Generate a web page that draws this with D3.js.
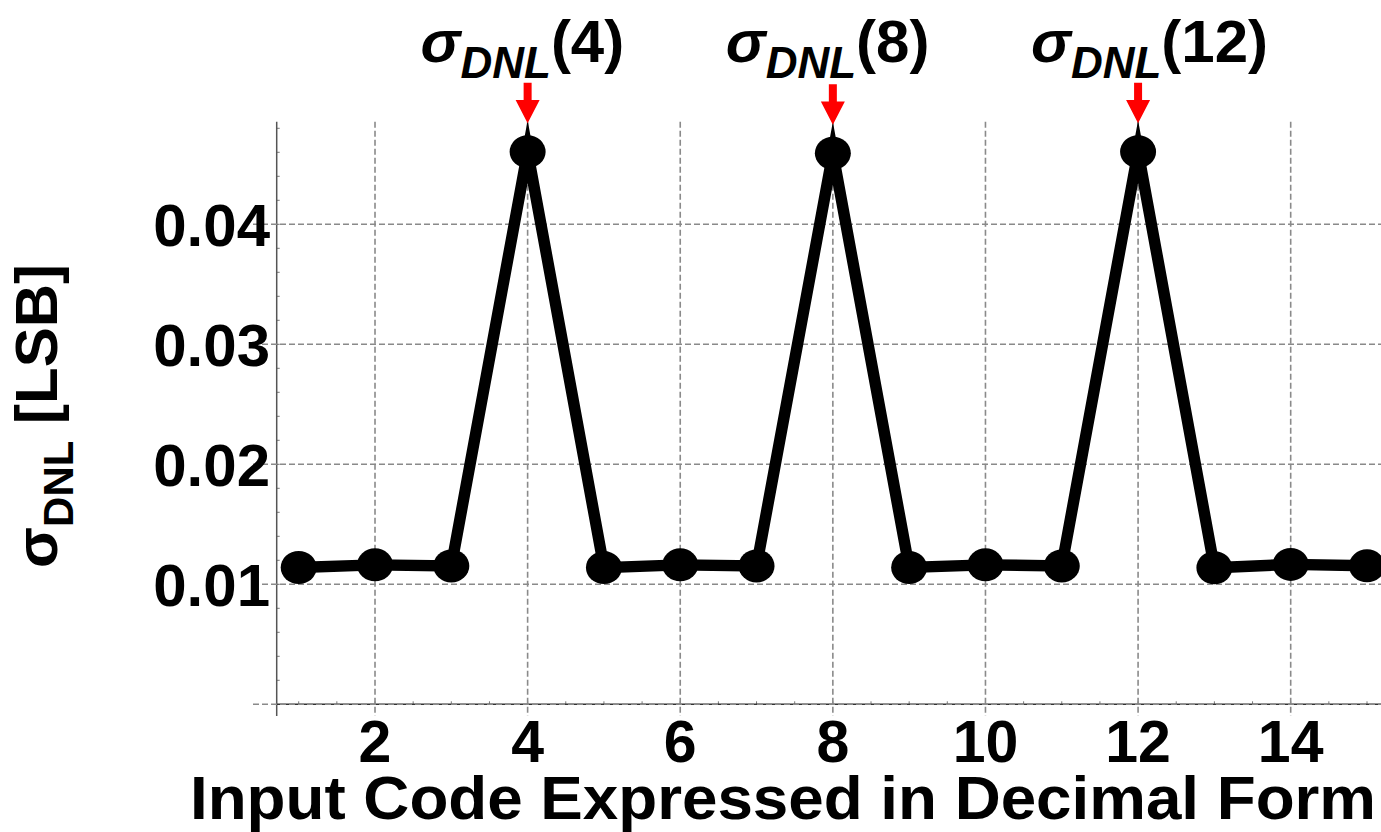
<!DOCTYPE html>
<html>
<head>
<meta charset="utf-8">
<script src="https://cdn.jsdelivr.net/npm/d3@7"></script>
<style>
  html, body { margin: 0; padding: 0; background: #fff; }
  svg { display: block; }
  text { font-family: "Liberation Sans", Arial, sans-serif; font-weight: bold; fill: #000; }
</style>
</head>
<body>
<svg id="chart" width="1381" height="832"></svg>
<script>
// Input codes and the standard deviation of DNL at each code [LSB]
const codes = [1, 2, 3, 4, 5, 6, 7, 8, 9, 10, 11, 12, 13, 14, 15];
const sigmaDNL = [0.01140, 0.01162, 0.01153, 0.04605, 0.01139, 0.01162, 0.01153, 0.04592,
                  0.01140, 0.01162, 0.01153, 0.04605, 0.01138, 0.01166, 0.01154];
const xTicks = [2, 4, 6, 8, 10, 12, 14];
const yTicks = [0.01, 0.02, 0.03, 0.04];
const markedCodes = [4, 8, 12];

const svg = d3.select("#chart");

// plot frame (pixels)
const frame = { left: 276.7, right: 1381, top: 121.7, bottom: 704.3 };

const x = d3.scaleLinear().domain([1, 15]).range([298.7, 1367.0]);
const y = d3.scaleLinear().domain([0, 0.01]).range([frame.bottom, 584.3]);

const gridColor = "#8a8a8a";

// minor ticks
const xMinor = d3.range(1, 15.01, 0.5);
const yMinor = d3.range(0.002, 0.0481, 0.002);
svg.append("g").selectAll("line").data(xMinor).join("line")
  .attr("x1", d => x(d)).attr("x2", d => x(d))
  .attr("y1", frame.bottom).attr("y2", frame.bottom - 3)
  .attr("stroke", "#777").attr("stroke-width", 1);
svg.append("g").selectAll("line").data(yMinor).join("line")
  .attr("x1", frame.left).attr("x2", frame.left + 3)
  .attr("y1", d => y(d)).attr("y2", d => y(d))
  .attr("stroke", "#777").attr("stroke-width", 1);

// axis lines
svg.append("line").attr("x1", frame.left).attr("x2", frame.left).attr("y1", frame.top).attr("y2", 716)
  .attr("stroke", "#555").attr("stroke-width", 1.5);
svg.append("line").attr("x1", frame.left).attr("x2", frame.right).attr("y1", frame.bottom).attr("y2", frame.bottom)
  .attr("stroke", "#333").attr("stroke-width", 1.5);

// dashed grid
svg.append("g").selectAll("line").data([0].concat(yTicks)).join("line")
  .attr("x1", 253).attr("x2", frame.right)
  .attr("y1", d => y(d)).attr("y2", d => y(d))
  .attr("stroke", gridColor).attr("stroke-width", 1.6).attr("stroke-dasharray", "6,3");
svg.append("g").selectAll("line").data(xTicks).join("line")
  .attr("x1", d => x(d)).attr("x2", d => x(d))
  .attr("y1", frame.top).attr("y2", 716)
  .attr("stroke", gridColor).attr("stroke-width", 1.6).attr("stroke-dasharray", "6,3");

// tick labels
svg.append("g").selectAll("text").data(yTicks).join("text")
  .attr("x", 270).attr("y", d => y(d) + 21.5)
  .attr("text-anchor", "end").attr("font-size", 60)
  .text(d => d3.format(".2f")(d));
svg.append("g").selectAll("text").data(xTicks).join("text")
  .attr("x", d => x(d)).attr("y", 762)
  .attr("text-anchor", "middle").attr("font-size", 59)
  .text(d => d);

// data line and markers
const pts = codes.map((c, i) => [c, sigmaDNL[i]]);
svg.append("path")
  .datum(pts)
  .attr("d", d3.line().x(d => x(d[0])).y(d => y(d[1])))
  .attr("fill", "none").attr("stroke", "#000").attr("stroke-width", 11.4)
  .attr("stroke-linejoin", "miter").attr("stroke-miterlimit", 10);
svg.append("g").selectAll("ellipse").data(pts).join("ellipse")
  .attr("cx", d => x(d[0])).attr("cy", d => y(d[1]))
  .attr("rx", 18).attr("ry", 16.5).attr("fill", "#000");

// peak annotations: red arrows and labels
const peaks = markedCodes.map(c => [c, sigmaDNL[codes.indexOf(c)]]);
const ann = svg.append("g").selectAll("g").data(peaks).join("g");
ann.append("path")
  .attr("d", d => {
    const cx = x(d[0]), tip = y(d[1]) - 28.4;
    return `M${cx - 4},${tip - 40.6} L${cx + 4},${tip - 40.6} L${cx + 4},${tip - 23.3}
            L${cx + 12},${tip - 23.3} L${cx},${tip} L${cx - 12},${tip - 23.3} L${cx - 4},${tip - 23.3} Z`;
  })
  .attr("fill", "#ff0000");
const lab = ann.append("text")
  .attr("x", d => x(d[0]) - 107).attr("y", 62)
  .attr("font-size", 60);
lab.append("tspan").attr("font-style", "italic").text("σ");
lab.append("tspan").attr("font-style", "italic").attr("font-size", 44).attr("dy", 16).text("DNL");
lab.append("tspan").attr("dy", -16).text(d => `(${d[0]})`);

// axis titles
svg.append("text")
  .attr("x", 190).attr("y", 819)
  .attr("font-size", 61)
  .attr("textLength", 1186).attr("lengthAdjust", "spacingAndGlyphs")
  .text("Input Code Expressed in Decimal Form");

const yt = svg.append("text")
  .attr("transform", "translate(57,416) rotate(-90)")
  .attr("text-anchor", "middle").attr("font-size", 60);
yt.append("tspan").text("σ");
yt.append("tspan").attr("font-size", 42).attr("dy", 16).text("DNL");
yt.append("tspan").attr("dy", -16).text(" [LSB]");
</script>
</body>
</html>
